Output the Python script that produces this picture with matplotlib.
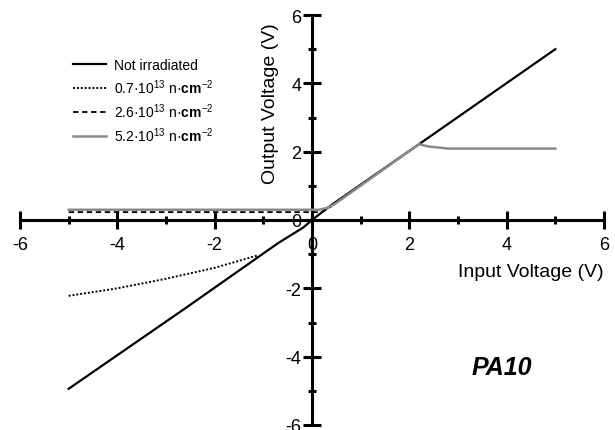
import matplotlib
matplotlib.use("Agg")
import matplotlib.pyplot as plt
from matplotlib.ticker import MultipleLocator

plt.rcParams["font.family"] = ["Liberation Sans", "DejaVu Sans"]
plt.rcParams["mathtext.fontset"] = "custom"
plt.rcParams["mathtext.rm"] = "Liberation Sans"
plt.rcParams["mathtext.bf"] = "Liberation Sans:bold"
plt.rcParams["mathtext.it"] = "Liberation Sans:italic"

# Transfer curves of the PA10 amplifier
x_not = [-5.0, -2.6, -0.7, -0.18, 0.0, 0.37, 2.2, 5.0]
y_not = [-4.94, -2.58, -0.68, -0.22, 0.0, 0.41, 2.22, 5.0]

x_07 = [-5.0, -4.0, -3.0, -2.0, -1.1]
y_07 = [-2.22, -2.0, -1.72, -1.40, -1.03]

x_26 = [-5.0, 0.2, 0.4]
y_26 = [0.23, 0.23, 0.40]

x_52 = [-5.0, 0.15, 0.3, 0.45, 2.2, 2.4, 2.8, 5.0]
y_52 = [0.30, 0.30, 0.35, 0.45, 2.22, 2.15, 2.09, 2.09]

labels = [
    "Not irradiated",
    r"0.7·10$^{13}$ n·$\mathbf{cm}^{-2}$",
    r"2.6·10$^{13}$ n·$\mathbf{cm}^{-2}$",
    r"5.2·10$^{13}$ n·$\mathbf{cm}^{-2}$",
]
ticks = [-6, -4, -2, 0, 2, 4, 6]
tick_labels = ["-6", "-4", "-2", "0", "2", "4", "6"]

W, H = 615, 431
fig = plt.figure(figsize=(W / 100, H / 100), dpi=100)
ax = fig.add_axes([20 / W, 5 / H, 584 / W, 410 / H])

ax.plot(x_26, y_26, color="black", lw=1.3, ls=(0, (3, 2)), label=labels[2], zorder=3)
ax.plot(x_52, y_52, color="#8a8a8a", lw=1.8, label=labels[3], zorder=4)
ax.plot(x_07, y_07, color="black", lw=1.4, ls=(0, (1, 1)), label=labels[1], zorder=3)
ax.plot(x_not, y_not, color="black", lw=1.6, label=labels[0], zorder=2)

ax.set_xlim(-6, 6)
ax.set_ylim(-6, 6)
for s in ["right", "top"]:
    ax.spines[s].set_visible(False)
for s in ["left", "bottom"]:
    ax.spines[s].set_position("zero")
    ax.spines[s].set_linewidth(2.2)
    ax.spines[s].set_zorder(1)

ax.xaxis.set_minor_locator(MultipleLocator(1))
ax.yaxis.set_minor_locator(MultipleLocator(1))
ax.set_xticks(ticks)
ax.set_xticklabels(tick_labels)
ax.set_yticks(ticks)
ax.set_yticklabels(tick_labels)
ax.tick_params(which="major", direction="inout", length=13, width=2.2, labelsize=13)
ax.tick_params(which="minor", direction="inout", length=6, width=2.2)
ax.tick_params(axis="x", which="major", pad=5)
ax.tick_params(axis="y", which="major", pad=1)

ax.text(6.0, -1.5, "Input Voltage (V)", ha="right", va="center", fontsize=14)
ax.text(-0.86, 3.45, "Output Voltage (V)", ha="center", va="center",
        rotation=90, fontsize=14)
ax.text(3.9, -4.3, "PA10", ha="center", va="center", fontsize=18,
        fontweight="bold", fontstyle="italic")

handles, labs = ax.get_legend_handles_labels()
order = [labs.index(l) for l in labels]
ax.legend([handles[i] for i in order], [labs[i] for i in order],
          loc="upper left", bbox_to_anchor=(67 / W, 1 - 53 / H),
          bbox_transform=fig.transFigure, frameon=False, fontsize=10,
          handlelength=2.4, handletextpad=0.55, labelspacing=0.4,
          borderaxespad=0.0)

fig.savefig("out.png", dpi=100)
